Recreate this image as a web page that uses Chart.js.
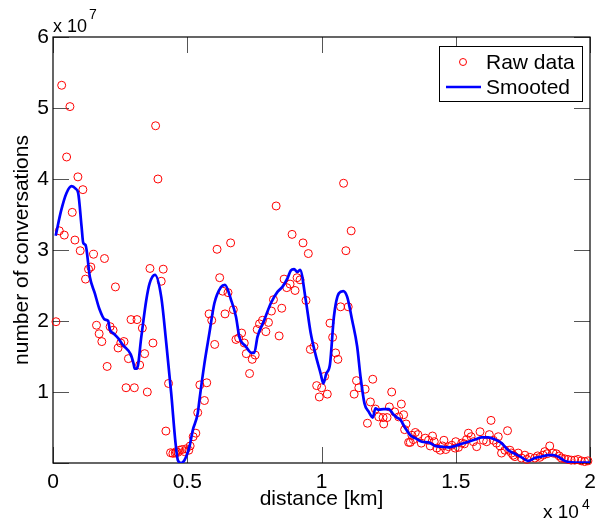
<!DOCTYPE html>
<html>
<head>
<meta charset="utf-8">
<script src="https://cdn.jsdelivr.net/npm/chart.js@4.4.1/dist/chart.umd.min.js"></script>
<style>
  html, body { margin: 0; padding: 0; background: #fff; }
  #wrap { width: 595px; height: 524px; position: relative; }
</style>
</head>
<body>
<div id="wrap"><canvas id="myChart"></canvas></div>
<script>
// distance in metres, conversations in units of 1e7
const rawX = [111, 235, 323, 420, 507, 631, 717, 816, 928, 1014, 1113, 1212, 1323, 1410, 1509, 1620, 1719, 1818, 1917, 2016,
  2127, 2238, 2325, 2424, 2523, 2646, 2721, 2808, 2906, 3030, 3129, 3228, 3327, 3413, 3512, 3611, 3723, 3821, 3908, 4031,
  4105, 4205, 4304, 4378, 4465, 4552, 4589, 4650, 4712, 4811, 4897, 4960, 5057, 5108, 5220, 5320, 5390, 5470, 5639, 5726,
  5812, 5911, 6022, 6110, 6208, 6320, 6406, 6518, 6616, 6715, 6814, 6913, 7024, 7124, 7198, 7321, 7420, 7531, 7606, 7692,
  7803, 7927, 8025, 8136, 8210, 8311, 8422, 8520, 8607, 8706, 8830, 8904, 9015, 9090, 9201, 9312, 9423, 9510, 9584, 9720,
  9820, 9918, 10006, 10117, 10216, 10315, 10414, 10525, 10611, 10710, 10822, 10908, 10994, 11105, 11216, 11303, 11390, 11624, 11711, 11822,
  11909, 12008, 12132, 12293, 12317, 12441, 12528, 12614, 12725, 12874, 12974, 13059, 13096, 13150, 13245, 13307, 13367, 13420, 13494, 13590,
  13716, 13864, 13987, 14050, 14135, 14200, 14295, 14421, 14506, 14560, 14629, 14729, 14851, 14977, 15000, 15100, 15222, 15322, 15400, 15471,
  15571, 15656, 15779, 15904, 16027, 16150, 16250, 16313, 16398, 16521, 16584, 16650, 16706, 16831, 16928, 17017, 17080, 17140, 17202, 17326,
  17448, 17574, 17650, 17760, 17945, 18050, 18130, 18253, 18316, 18400, 18500, 18624, 18747, 18850, 18932, 19050, 19180, 19300, 19430, 19550,
  19677, 19800, 19923];
const rawY = [1.99, 3.27, 5.32, 3.21, 4.31, 5.02, 3.53, 3.14, 4.03, 2.99, 3.85, 2.59, 2.73, 2.76, 2.94, 1.94, 1.82, 1.71, 2.88, 1.36,
  1.92, 1.87, 2.48, 1.62, 1.69, 1.71, 1.06, 1.47, 2.02, 1.06, 2.02, 1.38, 1.90, 1.54, 1.00, 2.74, 1.69, 4.75, 4.00, 2.56,
  2.73, 0.45, 1.12, 0.145, 0.136, 0.14, 0.16, 0.15, 0.18, 0.19, 0.16, 0.20, 0.18, 0.24, 0.37, 0.42, 0.71, 1.10, 0.88, 1.13,
  2.10, 2.01, 1.67, 3.01, 2.61, 2.42, 2.10, 2.40, 3.10, 2.16, 1.74, 1.76, 1.83, 1.69, 1.54, 1.26, 1.46, 1.52, 1.88, 1.96,
  2.01, 1.85, 1.98, 2.14, 2.30, 3.62, 1.79, 2.18, 2.59, 2.47, 2.52, 3.22, 2.43, 2.61, 2.58, 3.10, 2.29, 2.95, 1.60, 1.64,
  1.09, 0.93, 1.06, 1.22, 0.97, 1.97, 1.77, 1.55, 1.46, 2.20, 3.94, 2.99, 2.20, 3.27, 0.97, 1.16, 1.06, 1.04, 0.56, 0.86,
  1.18, 0.76, 0.65, 0.64, 0.55, 0.64, 0.79, 1.00, 0.72, 0.65, 0.83, 0.68, 0.47, 0.55, 0.29, 0.29, 0.39, 0.33, 0.43, 0.40,
  0.28, 0.35, 0.32, 0.24, 0.38, 0.30, 0.21, 0.18, 0.24, 0.32, 0.19, 0.23, 0.25, 0.21, 0.30, 0.22, 0.28, 0.27, 0.33, 0.42,
  0.37, 0.30, 0.23, 0.44, 0.32, 0.30, 0.40, 0.60, 0.32, 0.28, 0.37, 0.24, 0.14, 0.18, 0.455, 0.18, 0.14, 0.11, 0.09, 0.14,
  0.07, 0.11, 0.05, 0.08, 0.07, 0.10, 0.08, 0.11, 0.16, 0.13, 0.24, 0.14, 0.13, 0.10, 0.07, 0.06, 0.05, 0.04, 0.04, 0.05,
  0.03, 0.02, 0.03];

const smoothX = [100, 300, 500, 693, 850, 940, 1064, 1126, 1212, 1373, 1558, 1719, 1929, 2054, 2115, 2238, 2424, 2609, 2894, 3000,
  3042, 3129, 3290, 3476, 3599, 3797, 4031, 4218, 4403, 4564, 4650, 4774, 4897, 5083, 5205, 5391, 5454, 5639, 5825, 6010,
  6258, 6406, 6629, 6815, 6938, 7185, 7396, 7494, 7618, 7865, 8113, 8360, 8545, 8731, 8855, 8978, 9102, 9201, 9412, 9598,
  9783, 9968, 10068, 10179, 10316, 10462, 10648, 10809, 10957, 11142, 11328, 11452, 11600, 11760, 11909, 12008, 12132, 12317, 12503, 12688,
  12812, 12937, 13123, 13308, 13494, 13741, 13987, 14235, 14482, 14729, 14977, 15222, 15471, 15720, 15965, 16213, 16461, 16706, 16955, 17202,
  17448, 17696, 17945, 18190, 18437, 18624, 18809, 19057, 19305, 19677, 20000];
const smoothY = [3.20, 3.55, 3.80, 3.90, 3.86, 3.80, 3.33, 3.10, 3.07, 2.62, 2.39, 2.18, 2.02, 2.00, 1.88, 1.83, 1.76, 1.66, 1.53, 1.40,
  1.33, 1.33, 1.78, 2.30, 2.53, 2.65, 2.34, 1.69, 0.98, 0.28, 0.04, 0.00, 0.04, 0.23, 0.46, 0.70, 0.89, 1.40, 1.83, 2.25,
  2.48, 2.51, 2.30, 2.06, 1.78, 1.64, 1.55, 1.55, 1.78, 2.01, 2.25, 2.41, 2.48, 2.60, 2.71, 2.73, 2.69, 2.72, 2.30, 1.83,
  1.52, 1.26, 1.12, 1.26, 1.39, 2.06, 2.39, 2.42, 2.34, 2.01, 1.64, 1.22, 0.84, 0.72, 0.64, 0.77, 0.75, 0.76, 0.76, 0.68,
  0.64, 0.61, 0.49, 0.39, 0.35, 0.30, 0.29, 0.24, 0.23, 0.22, 0.24, 0.27, 0.30, 0.33, 0.36, 0.36, 0.33, 0.28, 0.18, 0.13,
  0.08, 0.03, 0.07, 0.09, 0.11, 0.11, 0.09, 0.03, 0.01, 0.005, 0.005];

const xTicks = [0, 5000, 10000, 15000, 20000];
const yTicks = [0, 1, 2, 3, 4, 5, 6];

const FONT = '"Liberation Sans", Arial, Helvetica, sans-serif';

// frame, inward ticks, titles, exponents and legend in MATLAB style
const matlabAxes = {
    id: 'matlabAxes',
    beforeDatasetsDraw(chart) {
        const { ctx, chartArea: a, scales: { x, y } } = chart;
        ctx.save();
        ctx.strokeStyle = '#555';
        ctx.lineWidth = 1;
        ctx.beginPath();
        xTicks.forEach(v => {
            const px = Math.round(x.getPixelForValue(v)) + 0.5;
            ctx.moveTo(px, a.bottom); ctx.lineTo(px, a.bottom - 16);
            ctx.moveTo(px, a.top); ctx.lineTo(px, a.top + 16);
        });
        yTicks.forEach(v => {
            const py = Math.round(y.getPixelForValue(v)) + 0.5;
            ctx.moveTo(a.left, py); ctx.lineTo(a.left + 16, py);
            ctx.moveTo(a.right, py); ctx.lineTo(a.right - 16, py);
        });
        ctx.stroke();
        ctx.strokeStyle = '#000';
        ctx.lineWidth = 1.2;
        ctx.strokeRect(a.left, a.top, a.right - a.left, a.bottom - a.top);
        ctx.restore();
    },
    afterDraw(chart) {
        const { ctx, chartArea: a } = chart;
        ctx.save();
        ctx.fillStyle = '#000';
        ctx.textBaseline = 'alphabetic';
        ctx.textAlign = 'left';
        ctx.font = '18px ' + FONT;
        ctx.fillText('x 10', 53, 32);
        ctx.font = '14px ' + FONT;
        ctx.fillText('7', 89, 19);
        ctx.font = '19px ' + FONT;
        ctx.fillText('x 10', 543, 518);
        ctx.font = '14px ' + FONT;
        ctx.fillText('4', 582, 509);

        ctx.font = '21px ' + FONT;
        ctx.textAlign = 'center';
        ctx.textBaseline = 'middle';
        ctx.fillText('distance [km]', (a.left + a.right) / 2, 499);
        ctx.translate(22, (a.top + a.bottom) / 2);
        ctx.rotate(-Math.PI / 2);
        ctx.fillText('number of conversations', 0, 0);
        ctx.restore();

        // legend
        ctx.save();
        ctx.fillStyle = '#fff';
        ctx.fillRect(439, 46, 143, 55);
        ctx.strokeStyle = '#000';
        ctx.lineWidth = 1;
        ctx.strokeRect(439.5, 46.5, 143, 55);
        ctx.strokeStyle = '#ff0000';
        ctx.beginPath();
        ctx.arc(463, 62, 3.5, 0, Math.PI * 2);
        ctx.stroke();
        ctx.strokeStyle = '#0000ff';
        ctx.lineWidth = 2.5;
        ctx.beginPath();
        ctx.moveTo(446, 87); ctx.lineTo(481, 87);
        ctx.stroke();
        ctx.fillStyle = '#000';
        ctx.font = '21px ' + FONT;
        ctx.textAlign = 'left';
        ctx.textBaseline = 'middle';
        ctx.fillText('Raw data', 486, 63);
        ctx.fillText('Smooted', 486, 88);
        ctx.restore();
    }
};

document.addEventListener('DOMContentLoaded', function() {
    const ctx = document.getElementById('myChart').getContext('2d');
    new Chart(ctx, {
        type: 'scatter',
        data: {
            datasets: [{
                label: 'Raw data',
                data: rawX.map((v, i) => ({ x: v, y: rawY[i] })),
                pointStyle: 'circle',
                pointRadius: 4,
                pointBorderWidth: 1,
                pointBorderColor: '#ff0000',
                pointBackgroundColor: 'rgba(0,0,0,0)',
                showLine: false,
                clip: false,
                order: 2
            }, {
                type: 'line',
                label: 'Smooted',
                data: smoothX.map((v, i) => ({ x: v, y: smoothY[i] })),
                borderColor: '#0000ff',
                borderWidth: 2.7,
                pointRadius: 0,
                fill: false,
                cubicInterpolationMode: 'monotone',
                order: 1
            }]
        },
        options: {
            responsive: true,
            maintainAspectRatio: false,
            animation: false,
            layout: { padding: { top: 37, right: 3, left: 0, bottom: 0 } },
            plugins: { legend: { display: false }, tooltip: { enabled: false } },
            scales: {
                x: {
                    type: 'linear',
                    min: 0, max: 20000,
                    afterBuildTicks: s => { s.ticks = xTicks.map(v => ({ value: v })); },
                    afterFit: s => { s.height = 61; s.paddingLeft = 0; s.paddingRight = 0; },
                    grid: { display: false, drawTicks: false },
                    border: { display: false },
                    ticks: {
                        color: '#000',
                        padding: 7,
                        maxRotation: 0,
                        font: { family: FONT, size: 21 },
                        callback: v => String(v / 10000)
                    }
                },
                y: {
                    min: 0, max: 6,
                    afterBuildTicks: s => { s.ticks = yTicks.map(v => ({ value: v })); },
                    afterFit: s => { s.width = 53; s.paddingTop = 0; s.paddingBottom = 0; },
                    grid: { display: false, drawTicks: false },
                    border: { display: false },
                    ticks: {
                        color: '#000',
                        padding: 4,
                        font: { family: FONT, size: 21 },
                        callback: v => v === 0 ? '' : String(v)
                    }
                }
            }
        },
        plugins: [matlabAxes]
    });
});
</script>
</body>
</html>
